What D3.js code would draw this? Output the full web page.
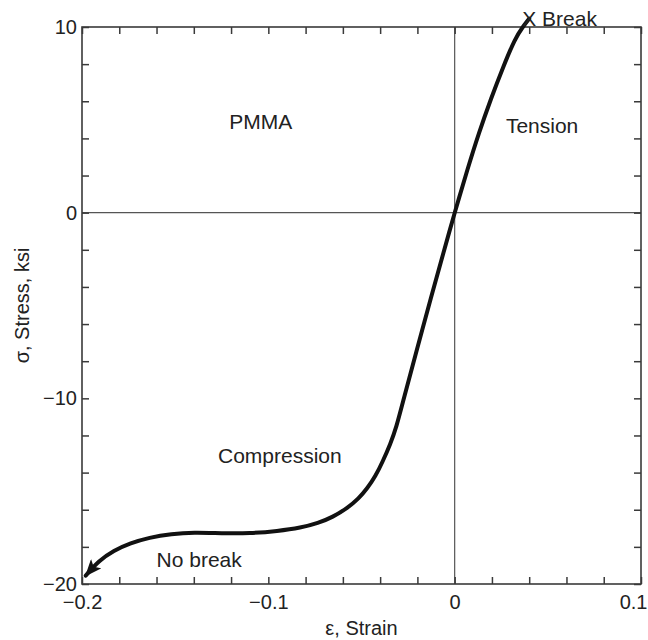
<!DOCTYPE html>
<html>
<head>
<meta charset="utf-8">
<script src="https://cdn.jsdelivr.net/npm/d3@7"></script>
<style>
  html, body { margin: 0; padding: 0; background: #fff; }
  svg text { font-family: "Liberation Sans", Arial, Helvetica, sans-serif; fill: #222; }
</style>
</head>
<body>
<svg id="chart" width="648" height="640"></svg>
<script>
// ---- data ----
const strain = [-0.198, -0.191, -0.183, -0.174, -0.164, -0.152, -0.14, -0.125, -0.11, -0.095, -0.0825, -0.0733, -0.0655, -0.0574, -0.0515, -0.0469, -0.0425, -0.0386, -0.0345, -0.0314, -0.0274, -0.0205, -0.0125, -0.006, 0, 0.0069, 0.013, 0.0195, 0.026, 0.0325, 0.0365, 0.040];
const stress = [-19.55, -18.75, -18.2, -17.8, -17.5, -17.3, -17.22, -17.27, -17.28, -17.15, -16.97, -16.72, -16.4, -15.9, -15.4, -14.85, -14.2, -13.4, -12.45, -11.6, -10.05, -7.45, -4.5, -2.15, 0, 2.35, 4.3, 6.15, 7.85, 9.4, 10.0, 10.45];
const xTickLabels = [-0.2, -0.1, 0, 0.1];
const yTickLabels = [-20, -10, 0, 10];
const xMinorTicks = d3.range(-0.2, 0.1001, 0.02);
const yMinorTicks = d3.range(-20, 10.001, 2);
const annotations = [
  { text: "PMMA", x: -0.121, y: 4.5 },
  { text: "Tension", x: 0.0275, y: 4.3 },
  { text: "Compression", x: -0.127, y: -13.5 },
  { text: "No break", x: -0.16, y: -19.1 }
];

// ---- layout ----
const svg = d3.select("#chart");
const L = 82, R = 641, T = 27, B = 584;
const x = d3.scaleLinear().domain([-0.2, 0.1]).range([L, R]);
const y = d3.scaleLinear().domain([-20, 10]).range([B, T]);
const frameColor = "#3a3a3a";

// zero lines
svg.append("line").attr("x1", x(0)).attr("x2", x(0)).attr("y1", T).attr("y2", B)
  .attr("stroke", "#555").attr("stroke-width", 1.2);
svg.append("line").attr("x1", L).attr("x2", R).attr("y1", y(0)).attr("y2", y(0))
  .attr("stroke", "#555").attr("stroke-width", 1.2);

function styleAxis(g) {
  g.select(".domain").remove();
  g.selectAll(".tick line").attr("stroke", frameColor).attr("stroke-width", 1.5);
  g.selectAll(".tick text").attr("fill", "#222").style("font-size", "20px")
    .style("font-family", '"Liberation Sans", Arial, sans-serif');
}
// minor ticks, pointing inward on all four sides
svg.append("g").attr("transform", `translate(0,${B})`)
  .call(d3.axisBottom(x).tickValues(xMinorTicks).tickSize(-7).tickFormat(""))
  .call(styleAxis);
svg.append("g").attr("transform", `translate(0,${T})`)
  .call(d3.axisTop(x).tickValues(xMinorTicks).tickSize(-7).tickFormat(""))
  .call(styleAxis);
svg.append("g").attr("transform", `translate(${L},0)`)
  .call(d3.axisLeft(y).tickValues(yMinorTicks).tickSize(-7).tickFormat(""))
  .call(styleAxis);
svg.append("g").attr("transform", `translate(${R},0)`)
  .call(d3.axisRight(y).tickValues(yMinorTicks).tickSize(-7).tickFormat(""))
  .call(styleAxis);
// tick labels
const xl = svg.append("g").attr("transform", `translate(0,${B})`)
  .call(d3.axisBottom(x).tickValues(xTickLabels).tickSize(0).tickPadding(11).tickFormat(d3.format("")))
  .call(styleAxis);
// keep the right-most label inside the window
xl.selectAll(".tick").filter(d => d === 0.1).select("text")
  .attr("text-anchor", "end").attr("x", 647 - x(0.1));
svg.append("g").attr("transform", `translate(${L},0)`)
  .call(d3.axisLeft(y).tickValues(yTickLabels).tickSize(0).tickPadding(5).tickFormat(d3.format("")))
  .call(styleAxis);

// frame
svg.append("rect").attr("x", L).attr("y", T).attr("width", R - L).attr("height", B - T)
  .attr("fill", "none").attr("stroke", frameColor).attr("stroke-width", 1.6);

// arrow marker
svg.append("defs").append("marker")
  .attr("id", "arrow").attr("markerUnits", "userSpaceOnUse")
  .attr("viewBox", "0 0 17 14").attr("refX", 16).attr("refY", 7)
  .attr("markerWidth", 17).attr("markerHeight", 14).attr("orient", "auto")
  .append("path").attr("d", "M0,0 L17,7 L0,14 L4,7 Z").attr("fill", "#111");

// curve drawn from the break towards the no-break end (arrow at the end)
const pts = strain.map((s, i) => [s, stress[i]]).reverse();
const line = d3.line().x(d => x(d[0])).y(d => y(d[1])).curve(d3.curveBasis);
svg.append("path").datum(pts).attr("d", line)
  .attr("fill", "none").attr("stroke", "#111").attr("stroke-width", 4)
  .attr("stroke-linecap", "round").attr("marker-end", "url(#arrow)");

// break label, X centred on the break point
const last = [strain[strain.length - 1], stress[stress.length - 1]];
svg.append("text").attr("x", x(last[0]) - 7).attr("y", y(last[1]) + 7)
  .style("font-size", "21px").text("X Break");

// annotations
svg.selectAll("text.ann").data(annotations).join("text").attr("class", "ann")
  .attr("x", d => x(d.x)).attr("y", d => y(d.y))
  .style("font-size", "21px").text(d => d.text);

// axis titles
svg.append("text").attr("x", (L + R) / 2).attr("y", 635)
  .attr("text-anchor", "middle").style("font-size", "20px").text("ε, Strain");
svg.append("text").attr("transform", `translate(29,${(T + B) / 2}) rotate(-90)`)
  .attr("text-anchor", "middle").style("font-size", "20px").text("σ, Stress, ksi");
</script>
</body>
</html>
